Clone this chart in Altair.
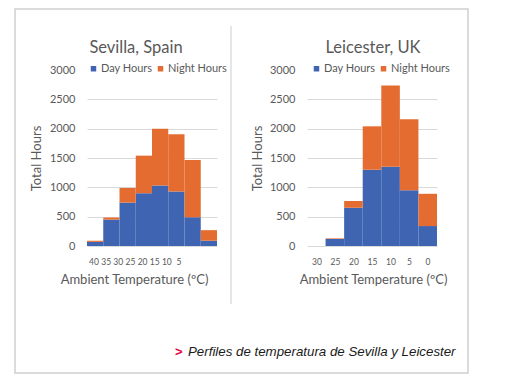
import altair as alt
import pandas as pd

# ---- data ----
series_names = ["Day Hours", "Night Hours"]

sev_temps = ["40", "35", "30", "25", "20", "15", "10", "5"]
sev_day = [70, 450, 740, 900, 1030, 930, 490, 90]
sev_night = [20, 35, 250, 640, 970, 975, 975, 180]

lei_temps = ["30", "25", "20", "15", "10", "5", "0"]
lei_day = [0, 120, 650, 1300, 1350, 950, 340]
lei_night = [0, 10, 115, 740, 1385, 1210, 550]

y_ticks = [0, 500, 1000, 1500, 2000, 2500, 3000]

caption = "Perfiles de temperatura de Sevilla y Leicester"

BLUE = "#3E64B2"
ORANGE = "#E46C30"
GRAY = "#595959"
FONT = "Lato"
W, H = 130, 176


def panel(title, temps, day, night, label_range, title_x, xtitle_x, legend_x, ytitle_x):
    n = len(temps)
    df = pd.DataFrame({
        "temp": temps * 2,
        "series": [series_names[0]] * n + [series_names[1]] * n,
        "hours": day + night,
        "ord": [0] * n + [1] * n,
    })
    bars = alt.Chart(df).mark_bar().encode(
        x=alt.X("temp:N", sort=temps,
                scale=alt.Scale(paddingInner=0, paddingOuter=0),
                axis=alt.Axis(labels=False, ticks=False, domain=False, grid=False,
                              title="Ambient Temperature (ºC)", titleFont=FONT,
                              titleFontSize=13, titleFontWeight="normal", titleColor=GRAY,
                              titleX=xtitle_x, titleY=33, titleBaseline="middle",
                              titleAlign="center")),
        y=alt.Y("hours:Q", stack="zero",
                scale=alt.Scale(domain=[0, 3000], nice=False),
                axis=alt.Axis(values=y_ticks, format="d", ticks=False, tickSize=0, domain=False,
                              grid=True, gridColor="#d9d9d9",
                              gridOpacity={"condition": {"test": "datum.value === 3000", "value": 0}, "value": 1},
                              labelFont=FONT, labelFontSize=11, labelColor=GRAY, labelPadding=12,
                              title="Total Hours", titleFont=FONT, titleFontSize=13,
                              titleFontWeight="normal", titleColor=GRAY, titleX=ytitle_x,
                              titleBaseline="middle")),
        color=alt.Color("series:N",
                        scale=alt.Scale(domain=series_names, range=[BLUE, ORANGE]),
                        legend=alt.Legend(orient="none", legendX=legend_x, legendY=-7,
                                          direction="horizontal", title=None,
                                          symbolType="square", symbolSize=30,
                                          symbolStrokeWidth=0, labelFont=FONT,
                                          labelFontSize=11, labelColor=GRAY,
                                          labelOffset=2, columnPadding=2, padding=0)),
        order=alt.Order("ord:Q"),
    )
    lab_df = pd.DataFrame({"temp": temps})
    labels = alt.Chart(lab_df).mark_text(font=FONT, fontSize=8.5, color=GRAY,
                                         baseline="middle").encode(
        x=alt.X("temp:N", sort=temps,
                scale=alt.Scale(type="point", range=label_range, padding=0),
                axis=None),
        y=alt.value(192),
        text="temp:N",
    )
    one = pd.DataFrame({"k": [0]})
    ttl = alt.Chart(one).mark_text(font=FONT, fontSize=16.5, color=GRAY,
                                   baseline="middle").encode(
        x=alt.value(title_x), y=alt.value(-22), text=alt.value(title))
    return [bars, labels, ttl]


one = pd.DataFrame({"k": [0]})
frame = alt.Chart(one).mark_rect(fill=None, stroke="#d0d0d0", strokeWidth=1.5).encode(
    x=alt.value(-72), x2=alt.value(381), y=alt.value(-61), y2=alt.value(303))
sep = alt.Chart(one).mark_rule(color="#dedede", strokeWidth=1.5).encode(
    x=alt.value(144), y=alt.value(-44), y2=alt.value(234))
arrow = alt.Chart(one).mark_text(font="Liberation Sans", fontSize=13, fontWeight="bold",
                                 color="#E4003B", align="left", baseline="middle").encode(
    x=alt.value(88), y=alt.value(282), text=alt.value(">"))
cap = alt.Chart(one).mark_text(font="Liberation Sans", fontSize=13.3, fontStyle="italic",
                               color="#1a1a1a", align="left", baseline="middle").encode(
    x=alt.value(101), y=alt.value(282), text=alt.value(caption))

left_layers = panel("Sevilla, Spain", sev_temps, sev_day, sev_night,
                    [7, 92], 49, 47, 1, -51)
right_layers = panel("Leicester, UK", lei_temps, lei_day, lei_night,
                     [10, 121], 66, 66, 4, -50)

left = alt.layer(frame, sep, arrow, cap, *left_layers).resolve_scale(x="independent").properties(width=W, height=H)
right = alt.layer(*right_layers).resolve_scale(x="independent").properties(width=W, height=H)

chart = alt.hconcat(left, right, spacing=90, bounds="flush").resolve_scale(
    color="independent").resolve_legend(color="independent").properties(
    padding={"left": 6, "top": 0, "right": 0, "bottom": 0},
    background="white",
).configure_view(stroke=None)

chart.save("out.html", embed_options={"renderer": "svg", "actions": False})
